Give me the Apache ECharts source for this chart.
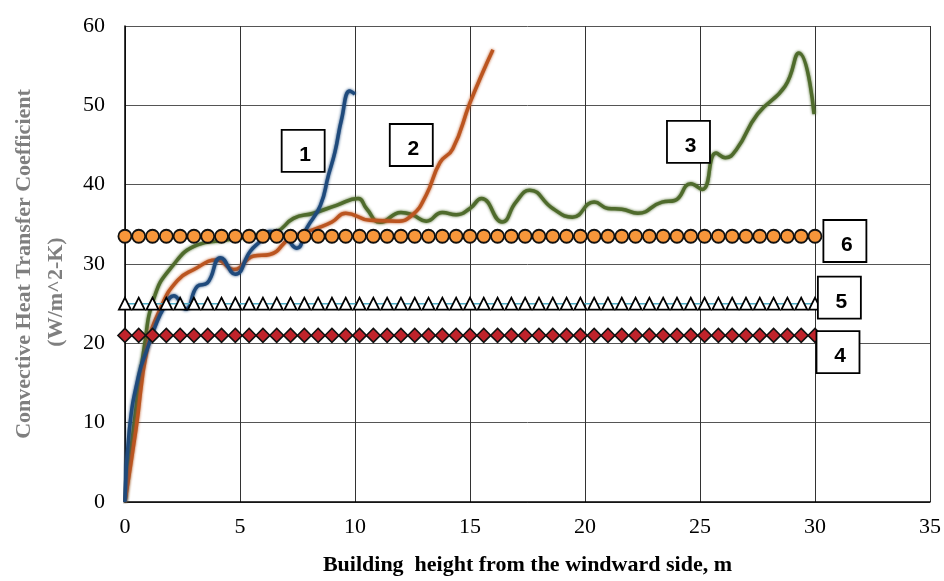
<!DOCTYPE html>
<html>
<head>
<meta charset="utf-8">
<script src="https://cdn.jsdelivr.net/npm/echarts@6/dist/echarts.min.js"></script>
<style>
  html, body { margin: 0; padding: 0; background: #fff; }
  #chart { width: 944px; height: 581px; }
</style>
</head>
<body>
<div id="chart"></div>
<script>
// curves: [x (m), h (W/m^2-K)]
var curve1 = [[0,0],[0.19,9],[0.6,16],[1.0,19.5],[1.3,22],[1.7,24.5],[2.13,26],[2.64,24.3],[3.15,27.2],[3.58,27.6],[4.16,30.8],[4.8,28.7],[5.45,31.6],[5.9,32.9],[6.3,34.1],[6.9,33.6],[7.47,32],[7.9,34.5],[8.5,37.4],[8.85,41.2],[9.13,44.1],[9.42,48.25],[9.78,51.8],[10.0,51.4]];
var curve2 = [[0,0],[0.48,9.1],[0.98,19.5],[1.56,24.5],[2.28,27.9],[3.0,29.3],[4.0,30.5],[4.73,29.3],[5.6,31],[6.3,31.2],[7.19,33.25],[8.34,34.5],[9.0,35.3],[9.6,36.4],[10.65,35.5],[11.8,35.4],[12.5,36.2],[13.1,38.7],[13.7,42.8],[14.25,44.5],[15.0,50.3],[15.55,54.1],[16.0,57]];
var curve3 = [[0,0],[0.4,9.9],[0.84,19.5],[1.27,25.75],[2.0,29.5],[3.15,32.4],[4.3,33],[5.45,33.5],[6.6,34.1],[7.33,35.75],[8.2,36.4],[9.2,37.4],[10.14,38.25],[10.5,37],[11.1,35.25],[12.0,36.5],[12.5,36.2],[13.1,35.4],[13.8,36.5],[14.4,36.2],[15.0,37],[15.5,38.25],[16.4,35.3],[17.0,37.8],[17.6,39.3],[18.6,37],[19.45,35.9],[20.4,37.8],[21.0,37],[21.6,36.9],[22.3,36.4],[23.35,37.8],[23.9,38],[24.6,40.1],[25.1,39.4],[25.7,44],[26.1,43.4],[26.6,44.5],[27.5,48.9],[28.7,52.4],[29.3,56.6],[29.96,48.9]];

// constant-level series (4, 5, 6) and where their markers sit
var markerX = [0,0.6,1.2,1.8,2.4,3,3.6,4.2,4.8,5.4,6,6.6,7.2,7.8,8.4,9,9.6,10.2,10.8,11.4,12,12.6,13.2,13.8,14.4,15,15.6,16.2,16.8,17.4,18,18.6,19.2,19.8,20.4,21,21.6,22.2,22.8,23.4,24,24.6,25.2,25.8,26.4,27,27.6,28.2,28.8,29.4,30];
var level4 = 21;
var level5 = 25;
var level6 = 33.5;

// numbered boxes
var boxText = ['1','2','3','4','5','6'];
var boxX = [7.75, 12.45, 24.5, 31.0, 31.06, 31.3];
var boxY = [44.25, 45, 45.4, 18.9, 25.75, 32.9];

function flat(level) {
    return markerX.map(function (x) { return [x, level]; });
}

function curve(name, data, color) {
    return {
        name: name,
        type: 'line',
        data: data,
        smooth: 0.5,
        showSymbol: false,
        symbol: 'none',
        lineStyle: { color: color, width: 3.5, shadowColor: color, shadowBlur: 3 },
        z: 3
    };
}

var chart = echarts.init(document.getElementById('chart'));

chart.setOption({
    animation: false,
    backgroundColor: '#fff',
    grid: { left: 124, top: 26, right: 9, bottom: 75 },
    xAxis: {
        type: 'value',
        min: 0, max: 35, interval: 5,
        name: 'Building  height from the windward side, m',
        nameLocation: 'middle',
        nameGap: 52,
        nameTextStyle: { fontFamily: 'Liberation Serif', fontSize: 22, fontWeight: 'bold', color: '#000' },
        axisLine: { lineStyle: { color: '#000', width: 1.5 } },
        axisTick: { show: false },
        axisLabel: { fontFamily: 'Liberation Serif', fontSize: 22, color: '#000', margin: 14 },
        splitLine: { lineStyle: { color: '#333', width: 1 } }
    },
    yAxis: {
        type: 'value',
        min: 0, max: 60, interval: 10,
        name: '{a|Convective Heat Transfer Coefficient}\n{b|(W/m^2-K)}',
        nameLocation: 'middle',
        nameGap: 51,
        nameTextStyle: {
            fontFamily: 'Liberation Serif', fontSize: 22, fontWeight: 'bold', color: '#7f7f7f',
            lineHeight: 32,
            rich: {
                a: { fontFamily: 'Liberation Serif', fontSize: 22, fontWeight: 'bold', color: '#7f7f7f', lineHeight: 32 },
                b: { fontFamily: 'Liberation Serif', fontSize: 22, fontWeight: 'bold', color: '#7f7f7f', lineHeight: 32, padding: [0, 56, 0, 0] }
            }
        },
        axisLine: { show: true, lineStyle: { color: '#000', width: 1.5 } },
        axisTick: { show: false },
        axisLabel: { fontFamily: 'Liberation Serif', fontSize: 22, color: '#000', margin: 20 },
        splitLine: { lineStyle: { color: '#555', width: 1 } }
    },
    series: [
        curve('3', curve3, '#4f6b2c'),
        curve('2', curve2, '#bb5520'),
        curve('1', curve1, '#1f4a7c'),
        {
            name: '4', type: 'line', data: flat(level4),
            symbol: 'diamond', symbolSize: 14,
            lineStyle: { color: '#8064a2', width: 1.5 },
            itemStyle: { color: '#c0232b', borderColor: '#111', borderWidth: 1.5 },
            z: 4
        },
        {
            name: '5', type: 'line', data: flat(level5),
            symbol: 'triangle', symbolSize: 12,
            lineStyle: { color: '#4bacc6', width: 1.5 },
            itemStyle: { color: '#fff', borderColor: '#000', borderWidth: 1.8 },
            z: 4
        },
        {
            name: '6', type: 'line', data: flat(level6),
            symbol: 'circle', symbolSize: 13,
            lineStyle: { color: '#f79646', width: 1.5 },
            itemStyle: { color: '#f7963a', borderColor: '#111', borderWidth: 1.8 },
            z: 4
        },
        {
            name: 'boxes', type: 'scatter',
            data: boxText.map(function (t, i) { return [boxX[i], boxY[i], t]; }),
            symbol: 'rect', symbolSize: [43, 42],
            itemStyle: { color: '#fff', borderColor: '#000', borderWidth: 1.8, opacity: 1 },
            label: {
                show: true, position: 'inside', offset: [2, 4],
                formatter: function (p) { return p.value[2]; },
                fontFamily: 'Liberation Sans', fontWeight: 'bold', fontSize: 21, color: '#000'
            },
            z: 5
        }
    ]
});
</script>
</body>
</html>
